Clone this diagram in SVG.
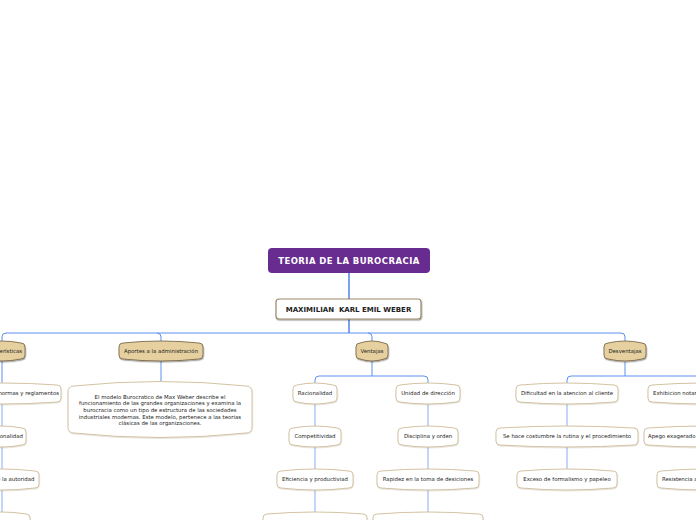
<svg xmlns="http://www.w3.org/2000/svg" width="696" height="520" viewBox="0 0 696 520">
<defs>
<filter id="sh" x="-20%" y="-30%" width="140%" height="170%">
<feDropShadow dx="0.6" dy="1.2" stdDeviation="0.7" flood-color="#000" flood-opacity="0.35"/>
</filter>
<filter id="sh2" x="-20%" y="-30%" width="140%" height="170%">
<feDropShadow dx="0.4" dy="0.8" stdDeviation="0.5" flood-color="#8a7a5a" flood-opacity="0.25"/>
</filter>
</defs>
<style>
text{font-family:"DejaVu Sans",Verdana,sans-serif;}
.t{font-size:5.4px;fill:#222;text-anchor:middle;}
.ts{font-size:5.4px;fill:#222;text-anchor:start;}
.tan{fill:#e6d09f;stroke:#7d6a4c;stroke-width:0.9;filter:url(#sh);}
.w{fill:#fff;stroke:#d3c3a3;stroke-width:1;filter:url(#sh2);}
.c{fill:none;stroke:#5d8ff0;stroke-width:1;}
.cl{fill:none;stroke:#9cb9f5;stroke-width:1.2;}
.cd{fill:none;stroke:#2563ea;stroke-width:1.2;}
</style>
<rect width="696" height="520" fill="#fff"/>

<g id="connectors">
<path class="cd" d="M349 273V299"/>
<path class="cd" d="M349 319V333"/>
<path class="c" d="M6 333H621"/>
<path class="c" d="M6 333Q2 333 2 337V341"/>
<path class="c" d="M157 333Q161 333 161 337V341"/>
<path class="c" d="M368 333Q372 333 372 337V341"/>
<path class="c" d="M621 333Q625 333 625 337V341"/>
<path class="c" d="M2 361V383"/>
<path class="c" d="M161 361V383"/>
<path class="c" d="M372 361V376"/>
<path class="c" d="M372 376H319Q315 376 315 380V383"/>
<path class="c" d="M372 376H424Q428 376 428 380V383"/>
<path class="c" d="M625 362V376"/>
<path class="c" d="M625 376H571Q567 376 567 380V383"/>
<path class="c" d="M625 376H700Q704 376 704 380V383"/>
<path class="cl" d="M2 404V426M2 447V469M2 490V512"/>
<path class="cl" d="M315 404V426M315 447V469M315 490V512"/>
<path class="cl" d="M428 404V426M428 447V469M428 490V512"/>
<path class="cl" d="M567 404V426M567 447V469"/>
</g>

<g id="title">
<rect x="268" y="248" width="162" height="25" rx="4" fill="#682b8f"/>
<text x="349" y="264" font-size="8.5" font-weight="bold" fill="#fff" text-anchor="middle" letter-spacing="0.45">TEORIA DE LA BUROCRACIA</text>
</g>

<g id="weber">
<rect x="276" y="299" width="145" height="20" rx="3" fill="#fff" stroke="#9a876a" stroke-width="1.2" filter="url(#sh)"/>
<text x="348.5" y="312" font-size="7" font-weight="bold" fill="#222" text-anchor="middle" style="white-space:pre">MAXIMILIAN  KARL EMIL WEBER</text>
</g>

<g id="caracteristicas">
<path class="tan" d="M-17 343Q2 339 21 343Q25 343 25 347V355Q25 359 21 359Q2 363 -17 359Q-21 359 -21 355V347Q-21 343 -17 343Z"/>
<text class="t" x="2" y="352.9">Características</text>
</g>
<g id="aportes">
<path class="tan" d="M123 343Q161 339 199 343Q203 343 203 347V355Q203 359 199 359Q161 363 123 359Q119 359 119 355V347Q119 343 123 343Z"/>
<text class="t" x="161" y="352.9">Aportes a la administración</text>
</g>
<g id="ventajas">
<path class="tan" d="M360 343Q372 339 384 343Q388 343 388 347V355Q388 359 384 359Q372 363 360 359Q356 359 356 355V347Q356 343 360 343Z"/>
<text class="t" x="372" y="352.9">Ventajas</text>
</g>
<g id="desventajas">
<path class="tan" d="M608 343Q625 339 642 343Q646 343 646 347V355Q646 359 642 359Q625 363 608 359Q604 359 604 355V347Q604 343 608 343Z"/>
<text class="t" x="625" y="352.9">Desventajas</text>
</g>

<g id="descripcion">
<path class="w" d="M74 386Q160 377 246 386Q252 386 252 392V427Q252 433 246 433Q160 442 74 433Q68 433 68 427V392Q68 386 74 386Z"/>
<text class="t" x="160" y="398.6">El modelo Burocratico de Max Weber describe el</text>
<text class="t" x="160" y="405.3">funcionamiento de las grandes organizaciones y examina la</text>
<text class="t" x="160" y="412">burocracia como un tipo de estructura de las sociedades</text>
<text class="t" x="160" y="418.7">industriales modernas. Este modelo, pertenece a las teorias</text>
<text class="t" x="160" y="425.4">clásicas de las organizaciones.</text>
</g>

<g id="normas">
<path class="w" d="M-53 385Q2 381 57 385Q61 385 61 389V398Q61 402 57 402Q2 406 -53 402Q-57 402 -57 398V389Q-57 385 -53 385Z"/>
<text class="t" x="0" y="395.4">Carácter legal de las normas y reglamentos</text>
</g>
<g id="impersonalidad">
<path class="w" d="M-18 428Q2 424 22 428Q26 428 26 432V441Q26 445 22 445Q2 449 -18 445Q-22 445 -22 441V432Q-22 428 -18 428Z"/>
<text class="t" x="2" y="438.4">Impersonalidad</text>
</g>
<g id="jerarquia">
<path class="w" d="M-31 471Q2 467 35 471Q39 471 39 475V484Q39 488 35 488Q2 492 -31 488Q-35 488 -35 484V475Q-35 471 -31 471Z"/>
<text class="t" x="1" y="481.4">Jerarquía de la autoridad</text>
</g>
<g id="left4">
<path class="w" d="M-22 514Q2 510 26 514Q30 514 30 518V530Q30 534 26 534Q2 538 -22 534Q-26 534 -26 530V518Q-26 514 -22 514Z"/>
</g>

<g id="racionalidad">
<path class="w" d="M297 385Q315 381 333 385Q337 385 337 389V398Q337 402 333 402Q315 406 297 402Q293 402 293 398V389Q293 385 297 385Z"/>
<text class="t" x="315" y="395.4">Racionalidad</text>
</g>
<g id="competitividad">
<path class="w" d="M293 428Q315 424 337 428Q341 428 341 432V441Q341 445 337 445Q315 449 293 445Q289 445 289 441V432Q289 428 293 428Z"/>
<text class="t" x="315" y="438.4">Competitividad</text>
</g>
<g id="eficiencia">
<path class="w" d="M281 471Q315 467 349 471Q353 471 353 475V484Q353 488 349 488Q315 492 281 488Q277 488 277 484V475Q277 471 281 471Z"/>
<text class="t" x="315" y="481.4">Eficiencia y productiviad</text>
</g>
<g id="v1-4">
<path class="w" d="M267 514Q315 510 363 514Q367 514 367 518V530Q367 534 363 534Q315 538 267 534Q263 534 263 530V518Q263 514 267 514Z"/>
</g>

<g id="unidad">
<path class="w" d="M400 385Q428 381 456 385Q460 385 460 389V398Q460 402 456 402Q428 406 400 402Q396 402 396 398V389Q396 385 400 385Z"/>
<text class="t" x="428" y="395.4">Unidad de dirección</text>
</g>
<g id="disciplina">
<path class="w" d="M402 428Q428 424 454 428Q458 428 458 432V441Q458 445 454 445Q428 449 402 445Q398 445 398 441V432Q398 428 402 428Z"/>
<text class="t" x="428" y="438.4">Disciplina y orden</text>
</g>
<g id="rapidez">
<path class="w" d="M381 471Q428 467 475 471Q479 471 479 475V484Q479 488 475 488Q428 492 381 488Q377 488 377 484V475Q377 471 381 471Z"/>
<text class="t" x="428" y="481.4">Rapidez en la toma de desiciones</text>
</g>
<g id="v2-4">
<path class="w" d="M377 514Q428 510 479 514Q483 514 483 518V530Q483 534 479 534Q428 538 377 534Q373 534 373 530V518Q373 514 377 514Z"/>
</g>

<g id="dificultad">
<path class="w" d="M520 385Q567 381 614 385Q618 385 618 389V398Q618 402 614 402Q567 406 520 402Q516 402 516 398V389Q516 385 520 385Z"/>
<text class="t" x="567" y="395.4">Dificultad en la atencion al cliente</text>
</g>
<g id="rutina">
<path class="w" d="M500 428Q567 424 634 428Q638 428 638 432V441Q638 445 634 445Q567 449 500 445Q496 445 496 441V432Q496 428 500 428Z"/>
<text class="t" x="567" y="438.4">Se hace costumbre la rutina y el procedimiento</text>
</g>
<g id="formalismo">
<path class="w" d="M521 471Q567 467 613 471Q617 471 617 475V484Q617 488 613 488Q567 492 521 488Q517 488 517 484V475Q517 471 521 471Z"/>
<text class="t" x="567" y="481.4">Exceso de formalismo y papeleo</text>
</g>

<g id="exhibicion">
<path class="w" d="M652 385Q704 381 756 385Q760 385 760 389V398Q760 402 756 402Q704 406 652 402Q648 402 648 398V389Q648 385 652 385Z"/>
<text class="ts" x="653" y="395.4">Exhibicion notaria de señales de autoridad</text>
</g>
<g id="apego">
<path class="w" d="M648 428Q704 424 760 428Q764 428 764 432V441Q764 445 760 445Q704 449 648 445Q644 445 644 441V432Q644 428 648 428Z"/>
<text class="ts" x="648" y="438.4">Apego exagerado a los reglamentos</text>
</g>
<g id="resistencia">
<path class="w" d="M661 471Q704 467 747 471Q751 471 751 475V484Q751 488 747 488Q704 492 661 488Q657 488 657 484V475Q657 471 661 471Z"/>
<text class="ts" x="662" y="481.4">Resistencia a los cambios</text>
</g>
</svg>
